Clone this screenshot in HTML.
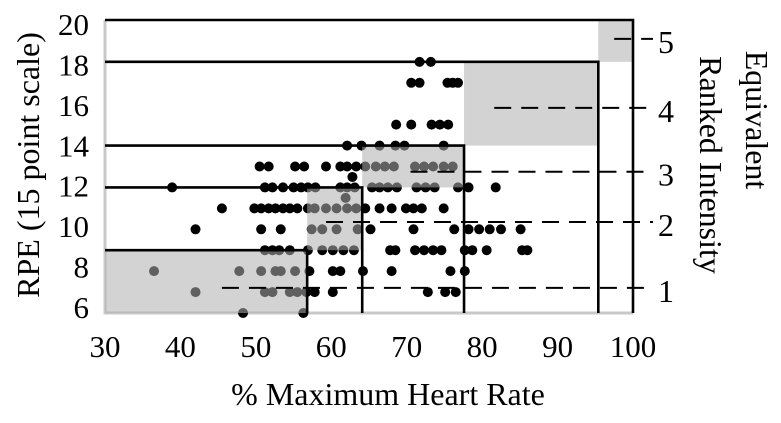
<!DOCTYPE html>
<html><head><meta charset="utf-8"><style>
html,body{margin:0;padding:0;background:#fff}
svg{display:block;font-family:"Liberation Serif",serif}
</style></head><body>
<svg id="chart" width="781" height="423" viewBox="0 0 781 423"></svg>
<script>
const xTicks=[30,40,50,60,70,80,90,100];
const yTicks=[6,8,10,12,14,16,18,20];
const rankLevels=[1,2,3,4,5];
const rankY=[7.2,10.35,12.75,15.8,19.1];
const rankStartX=[45.5,59.3,70.5,81.6,97.5];
const zoneX0=[30,56.8,64.1,77.6,95.4];
const zoneX1=[56.8,64.1,77.6,95.4,100];
const zoneY0=[6,9,12,14,18];
const zoneY1=[9,12,14,18,20];
const ptX=[71.7,73.2, 70.6,71.7,75.4,76.1,76.8, 68.6,70.6,73.3,74.4,75.5,
 62.1,64,66.4,68.5,69.7,74.9,
 50.5,51.7,55.2,56.4,59.3,61.2,62.1,63.3,64.5,65.9,67.1,68.3,71.1,72.3,73.5,74.9,76.1,
 62.8,
 38.9,51.2,52.2,53.6,55,56,56.9,57.9,61.2,62.1,63.1,65.4,66.4,67.5,68.7,71.3,72.5,73.7,76.8,78.2,81.8,
 61.9,
 45.5,49.8,50.7,51.7,52.6,53.6,54.5,55.5,56.9,57.8,59.3,60.7,62.1,63.3,64.5,66.4,68,69.9,70.9,72,74.9,
 42,50.7,53.3,57.4,58.8,60.7,63.5,65.2,70.9,76.3,78.2,79.6,81,82.5,85.1,
 51.2,52.2,53.1,54.5,56.9,58.8,60.2,61.6,63,67.8,68.5,71.1,72.3,73.5,74.6,77.7,78.7,80.6,85.3,86,
 36.5,47.8,50.7,52.6,53.3,55.2,57.1,60.2,61.2,64.2,68,75.8,77.7,
 42,51.2,52.2,54.5,55.5,56.7,57.8,60.2,72.8,75.1,76.5,
 48.3,56.3];
const ptY=[18,18, 17,17,17,17,17, 15,15,15,15,15,
 14,14,14,14,14,14,
 13,13,13,13,13,13,13,13,13,13,13,13,13,13,13,13,13,
 12.5,
 12,12,12,12,12,12,12,12,12,12,12,12,12,12,12,12,12,12,12,12,12,
 11.5,
 11,11,11,11,11,11,11,11,11,11,11,11,11,11,11,11,11,11,11,11,11,
 10,10,10,10,10,10,10,10,10,10,10,10,10,10,10,
 9,9,9,9,9,9,9,9,9,9,9,9,9,9,9,9,9,9,9,9,
 8,8,8,8,8,8,8,8,8,8,8,8,8,
 7,7,7,7,7,7,7,7,7,7,7,
 6,6];

const svg=document.getElementById('chart');
const NS='http://www.w3.org/2000/svg';
const X=v=>105+(v-30)*(633-105)/70;
const Y=v=>313-(v-6)*(313-20)/14;
const YL=v=>308-(v-6)*(308-25)/14;
function mk(tag,at,parent){const e=document.createElementNS(NS,tag);for(const k in at)e.setAttribute(k,at[k]);(parent||svg).appendChild(e);return e;}

let fr=mk('path',{d:`M${X(30)},${Y(20)}V${Y(6)}H${X(100)}`,fill:'none',stroke:'#c8c8c8','stroke-width':3});



const pg=mk('g',{});


for(let i=0;i<ptX.length;i++){
  const c=mk('circle',{cx:X(ptX[i]),cy:Y(ptY[i]),r:5,fill:'#000'},pg);
  
  
}
for(let i=0;i<zoneX0.length;i++){
  const r=mk('rect',{x:X(zoneX0[i]),y:Y(zoneY1[i]),width:X(zoneX1[i])-X(zoneX0[i]),height:Y(zoneY0[i])-Y(zoneY1[i]),fill:'rgb(175,175,175)','fill-opacity':0.55});
  
  
}
for(let i=0;i<zoneX0.length;i++){
  const d=i<4?`M${X(30)},${Y(zoneY1[i])}H${X(zoneX1[i])}V${Y(6)}`:`M${X(30)},${Y(20)}H${X(100)}V${Y(6)}`;
  const p=mk('path',{d:d,fill:'none',stroke:'#000','stroke-width':2.6});
  
  
}
for(let i=0;i<rankLevels.length;i++){
  const l=mk('line',{x1:X(rankStartX[i]),x2:653,y1:Y(rankY[i]),y2:Y(rankY[i]),stroke:'#000','stroke-width':2,'stroke-dasharray':'17,10'});
  
  
  const t=mk('text',{x:658,y:Y(rankY[i])+3,'font-size':32,'dominant-baseline':'central'});
  t.textContent=rankLevels[i];
  
  
}
xTicks.forEach(v=>{
  const t=mk('text',{x:X(v),y:357,'font-size':31,'text-anchor':'middle'});
  t.textContent=v;
  
  
});
yTicks.forEach(v=>{
  const t=mk('text',{x:89,y:YL(v)+10,'font-size':31,'text-anchor':'end'});
  t.textContent=v;
  
  
});
let t=mk('text',{x:388,y:405,'font-size':32,'text-anchor':'middle'});
t.textContent='% Maximum Heart Rate';


t=mk('text',{x:0,y:0,'font-size':32,'text-anchor':'middle',transform:'translate(39,165) rotate(-90)'});
t.textContent='RPE (15 point scale)';


t=mk('text',{x:0,y:0,'font-size':32,'text-anchor':'middle',transform:'translate(746,120) rotate(90)'});
t.textContent='Equivalent';


t=mk('text',{x:0,y:0,'font-size':32,'text-anchor':'middle',transform:'translate(700,165) rotate(90)'});
t.textContent='Ranked Intensity';


</script>
</body></html>
